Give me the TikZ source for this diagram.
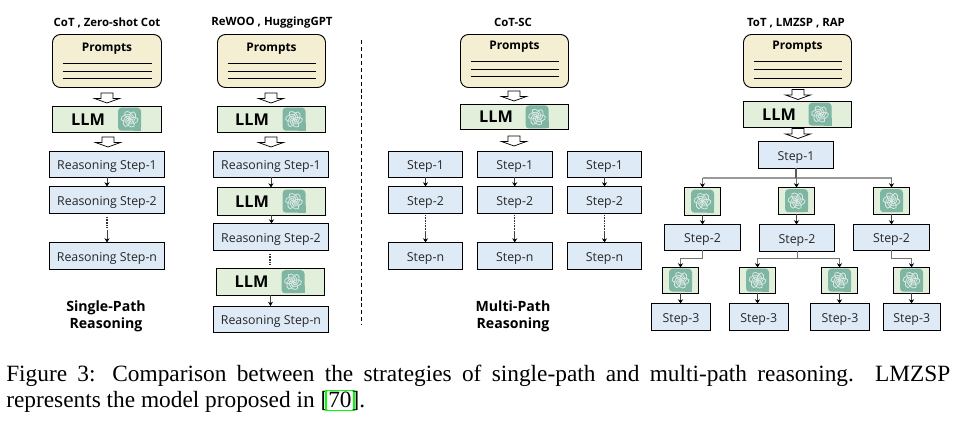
\documentclass[tikz,border=0pt]{standalone}
\usepackage{fontspec}
\setmainfont{Open Sans}
\newfontfamily\capfont{Liberation Serif}
\usetikzlibrary{arrows.meta,calc}
\definecolor{cream}{HTML}{F4EFD2}
\definecolor{leaf}{HTML}{E2EFDA}
\definecolor{sky}{HTML}{DEEAF6}
\definecolor{gptg}{HTML}{7FB5A3}
\definecolor{gptl}{HTML}{D8E8E1}
\definecolor{linkg}{HTML}{00FF00}
\tikzset{
  x=0.75pt,y=-0.75pt,
  basebox/.style={draw=black,line width=0.7pt,inner sep=0pt,outer sep=0pt},
  promptbox/.style={basebox,fill=cream,rounded corners=6pt},
  llmbox/.style={basebox,fill=leaf},
  stepbox/.style={basebox,fill=sky,font=\fontsize{9.25}{11}\selectfont,text=black!85},
  headtxt/.style={font=\bfseries\fontsize{8.55}{10}\selectfont,inner sep=0pt,yshift=-1.4pt},
  prompttxt/.style={font=\bfseries\fontsize{8.9}{10}\selectfont,inner sep=0pt,yshift=-1.5pt},
  llmtxt/.style={font=\bfseries\fontsize{12.2}{15}\selectfont,inner sep=0pt},
  grouptxt/.style={font=\bfseries\fontsize{10.6}{12.8}\selectfont,align=center,inner sep=0pt,yshift=-0.8pt},
  rule/.style={line width=0.55pt,black},
  stem/.style={line width=0.5pt,black!75,-{Stealth[length=3.2pt,width=3.8pt,black]}},
  graystem/.style={line width=0.7pt,black!55,-{Stealth[length=3.2pt,width=3.8pt,black]}},
  graybar/.style={line width=0.8pt,black!40},
  dots/.style={line width=0.8pt,black!80,dash pattern=on 0.6pt off 0.6pt},
  gpticon/.pic={
    \fill[gptg,rounded corners=2.6pt] (-11.5,-11.5) rectangle (11.5,11.5);
    \fill[gptg] (4,4) rectangle (11.5,11.5);
    \foreach \a in {0,60,...,300}
      \draw[gptl,line width=0.6pt,rotate=\a] (3.3,1.4) ellipse [x radius=4pt,y radius=2.4pt,rotate=18];
  },
  hollow/.pic={
    \draw[line width=0.55pt,fill=white,line join=miter]
      (-6,-5) -- (6,-5) -- (6,0.5) -- (12.5,0.5) -- (0,5) -- (-12.5,0.5) -- (-6,0.5) -- cycle;
  },
}
\newcommand{\bx}[7]{\node[#1,minimum width={(#5-#3)*0.75pt},minimum height={(#6-#4)*0.75pt}] (#2) at ({(#3+#5)/2},{(#4+#6)/2}) {\raisebox{-4pt}[0pt][0pt]{#7}};}
% name x1 y1 x2 y2 textx texty line1 line2 line3
\newcommand{\prompt}[9]{%
  \bx{promptbox}{#1}{#2}{#3}{#4}{#5}{}%
  \node[prompttxt] (#1t) at ({(#2+#4)/2},#6) {Prompts};%
  \draw[rule] ({#2+10},#7) -- ({#4-9.5},#7);
  \draw[rule] ({#2+10},#8) -- ({#4-9.5},#8);
  \draw[rule] ({#2+10},#9) -- ({#4-9.5},#9);
}
% name x1 y1 x2 y2 textx iconx
\newcommand{\llm}[7]{%
  \bx{llmbox}{#1}{#2}{#3}{#4}{#5}{}%
  \node[llmtxt] (#1t) at (#6,{(#3+#5)/2}) {\raisebox{-4.4pt}[0pt][0pt]{LLM}};%
  \pic at (#7,{(#3+#5)/2}) {gpticon};
}
\newcommand{\ic}[6]{%
  \bx{llmbox}{#1}{#2}{#3}{#4}{#5}{}%
  \pic at ({(#2+#4)/2+#6},{(#3+#5)/2}) {gpticon};
}
\newcommand{\vstem}[2]{\draw[stem] (#1.south) -- (#1.south |- #2.north);}
\begin{document}
\begin{tikzpicture}
\useasboundingbox (0,0) rectangle (957,423);
\fill[white] (0,0) rectangle (957,423);

% ---- column 1
\node[headtxt] (h1) at (107,21) {CoT , Zero-shot Cot};
\prompt{p1}{52.5}{34.5}{161.5}{87.5}{47}{63}{71}{78.5}
\pic at (107,98) {hollow};
\llm{l1}{52.5}{106.5}{161.5}{132}{88}{129.5}
\pic at (108,142) {hollow};
\bx{stepbox}{a1}{49.5}{151.5}{164.5}{177}{Reasoning Step-1}
\bx{stepbox}{a2}{49.5}{186.5}{164.5}{213}{Reasoning Step-2}
\bx{stepbox}{a3}{49.5}{242.5}{164.5}{269}{Reasoning Step-n}
\vstem{a1}{a2}
\coordinate (a2d) at ($(a2.south)+(0,4)$);
\coordinate (a2e) at ($(a2.south)+(0,14)$);
\coordinate (a2f) at ($(a2.south)+(0,17)$);
\draw[dots] (a2d) -- (a2e);
\draw[stem] (a2f) -- (a2f |- a3.north);
\node[grouptxt] (g1) at (106,315) {Single-Path\\Reasoning};

% ---- column 2
\node[headtxt] (h2) at (272,21) {ReWOO , HuggingGPT};
\prompt{p2}{217.5}{34.5}{325.5}{87.5}{47}{63}{71}{78.5}
\pic at (271,98) {hollow};
\llm{l2}{217.5}{106.5}{325.5}{132}{252}{294}
\pic at (271,142) {hollow};
\bx{stepbox}{b1}{213.5}{151.5}{328.5}{177}{Reasoning Step-1}
\llm{b2}{217.5}{187.5}{325.5}{215}{252}{294}
\bx{stepbox}{b3}{213.5}{223.5}{328.5}{250}{Reasoning Step-2}
\llm{b4}{216.5}{268.5}{324.5}{295}{251.5}{293}
\bx{stepbox}{b5}{213.5}{306}{328.5}{332}{Reasoning Step-n}
\vstem{b1}{b2}
\vstem{b2}{b3}
\vstem{b4}{b5}
\coordinate (b3d) at ($(b3.south)+(-1,4)$);
\coordinate (b3e) at ($(b3.south)+(-1,14)$);
\draw[dots] (b3d) -- (b3e);

% ---- divider
\coordinate (d1) at (361,40);
\coordinate (d2) at (361,325);
\draw[line width=0.6pt,dash pattern=on 3pt off 2.2pt] (d1) -- (d2);

% ---- column 3
\node[headtxt] (h3) at (513,21) {CoT-SC};
\prompt{p3}{460.5}{34.5}{568.5}{87.5}{45}{61}{69.5}{76}
\pic at (514,96) {hollow};
\llm{l3}{460.5}{104.5}{568.5}{129.5}{496}{537}
\pic at (514,141) {hollow};
\foreach \n/\xa/\xb in {c/388.5/462.5,e/477.5/552,f/567.5/641.5}{
  \bx{stepbox}{\n1}{\xa}{151.5}{\xb}{177}{Step-1}
  \bx{stepbox}{\n2}{\xa}{186.5}{\xb}{213}{Step-2}
  \bx{stepbox}{\n3}{\xa}{242.5}{\xb}{269}{Step-n}
  \vstem{\n1}{\n2}
  \coordinate (\n d) at ($(\n2.south)+(0,2)$);
  \coordinate (\n e) at ($(\n2.south)+(0,18)$);
  \draw[dots] (\n d) -- (\n e);
  \draw[stem] (\n e) -- (\n e |- \n3.north);
}
\node[grouptxt] (g2) at (513,315) {Multi-Path\\Reasoning};

% ---- column 4
\node[headtxt] (h4) at (796,21) {ToT , LMZSP , RAP};
\prompt{p4}{743.5}{34.5}{851.5}{87.5}{45}{61}{69.5}{78.5}
\pic at (798,94.5) {hollow};
\llm{l4}{743.5}{101.5}{851.5}{127}{779}{820}
\pic at (798,133.5) {hollow};
\bx{stepbox}{t1}{758.5}{141.5}{833.5}{168}{Step-1}
\ic{i1}{684.5}{187.5}{720.5}{215}{0}
\ic{i2}{778.5}{187.5}{814.5}{214}{0}
\ic{i3}{873.5}{187.5}{909.5}{214}{0}
\bx{stepbox}{s1}{664.5}{224.5}{740.5}{250}{Step-2}
\bx{stepbox}{s2}{759.5}{224.5}{834.5}{251}{Step-2}
\bx{stepbox}{s3}{853.5}{224.5}{929.5}{250}{Step-2}
\ic{j1}{662.5}{267.5}{698.5}{293}{0}
\ic{j2}{739.5}{267.5}{775.5}{293}{0}
\ic{j3}{821.5}{267.5}{857.5}{293}{0}
\ic{j4}{893.5}{267.5}{929.5}{293}{0}
\bx{stepbox}{u1}{651.5}{303.5}{710.5}{330}{Step-3}
\bx{stepbox}{u2}{729.5}{303.5}{788}{330}{Step-3}
\bx{stepbox}{u3}{810.5}{303.5}{869.5}{330}{Step-3}
\bx{stepbox}{u4}{883}{303.5}{940.5}{330}{Step-3}
% branch from step-1
\coordinate (tb) at ($(t1.south)+(0,10)$);
\draw[graybar] (i1.north |- tb) -- (i3.north |- tb);
\draw[line width=1pt,black!65] (t1.south) -- (tb);
\foreach \n in {i1,i2,i3}
  \draw[graystem] (\n.north |- tb) -- (\n.north);
\vstem{i1}{s1}
\vstem{i2}{s2}
\vstem{i3}{s3}
% step-2 to second level
\coordinate (sb) at (0,258.5);
\draw[graystem] (s1.south) -- (s1.south |- sb) -| (j1.north);
\draw[graystem] (s2.south) -- (s2.south |- sb) -| (j2.north);
\draw[graystem] (s2.south |- sb) -| (j3.north);
\draw[graystem] (s3.south) -- (s3.south |- sb) -| (j4.north);
\vstem{j1}{u1}
\vstem{j2}{u2}
\vstem{j3}{u3}
\vstem{j4}{u4}

% ---- caption
\node[anchor=base west,inner sep=0pt,font=\capfont\fontsize{17.5}{20}\selectfont] (cap1) at (6,382)
  {\makebox[708pt][s]{Figure 3: Comparison between the strategies of single-path and multi-path reasoning. LMZSP}};
\node[anchor=base west,inner sep=0pt,font=\capfont\fontsize{17.5}{20}\selectfont] (cap2) at (6,408)
  {represents the model proposed in [\makebox[1em][c]{\fboxsep=1.2pt\fboxrule=1pt\textcolor{linkg}{\fbox{\textcolor{black}{70}}}}].};
\end{tikzpicture}
\end{document}
